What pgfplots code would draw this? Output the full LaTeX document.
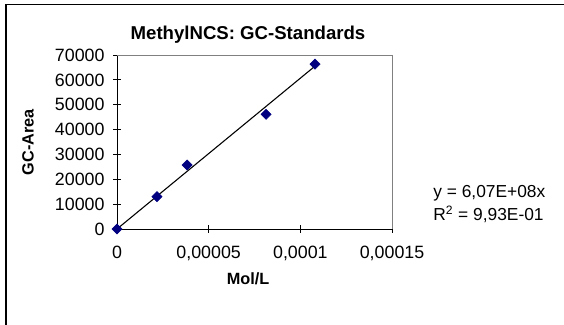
\documentclass[border=0pt]{standalone}
\usepackage{pgfplots}
\pgfplotsset{compat=1.18}
\usepackage{fontspec}
\setmainfont{Liberation Sans}
\definecolor{navyblue}{RGB}{0,0,128}
\begin{document}
% 1 px of the reference = 0.645pt
\begin{tikzpicture}[x=0.645pt,y=0.645pt]
\useasboundingbox (0,0) rectangle (564,325);
\draw[line width=1.2pt] (6,-10) -- (6,320.5) -- (575,320.5);
\begin{axis}[
  at={(75.47pt,61.92pt)}, anchor=south west,
  scale only axis,
  width=177.4pt, height=112.2pt,
  xmin=0, xmax=0.00015,
  ymin=0, ymax=70000,
  axis x line=bottom, axis y line=left,
  axis line style={-, black, line width=0.6pt},
  xtick={0,0.00005,0.0001,0.00015},
  xticklabels={0,{0,00005},{0,0001},{0,00015}},
  scaled x ticks=false,
  scaled y ticks=false,
  ytick={0,10000,...,70000},
  /pgf/number format/1000 sep={},
  /pgf/number format/assume math mode=true,
  tick align=center,
  major tick length=5pt,
  tick style={black, line width=0.6pt},
  ticklabel style={font=\fontsize{11.5}{13}\selectfont},
  xticklabel style={yshift=-5pt},
  yticklabel style={xshift=-2pt},
  clip=false,
]
\draw[gray, line width=0.6pt] (rel axis cs:0,1) -- (rel axis cs:1,1) -- (rel axis cs:1,0);
% linear trend line through origin
\addplot[black, line width=0.7pt] coordinates {(0,0) (0.000108,65556)};
\addplot[only marks, mark=square*, mark size=2.3pt,
  mark options={rotate=45, fill=navyblue, draw=navyblue}]
  coordinates {
  (0,0) (0.0000218,13000) (0.0000382,25750) (0.0000813,46150) (0.000108,66350)
  };
\end{axis}
\node[font=\bfseries\fontsize{12}{14}\selectfont] at (248,290) {MethylNCS: GC-Standards};
\node[font=\bfseries\fontsize{10.5}{12}\selectfont, rotate=90] at (28,183) {GC-Area};
\node[font=\bfseries\fontsize{10.5}{12}\selectfont] at (248,46) {Mol/L};
\node[anchor=west, inner sep=0pt, font=\fontsize{11.2}{13}\selectfont] at (433,132) {y = 6,07E+08x};
\node[anchor=west, inner sep=0pt, font=\fontsize{11.2}{13}\selectfont] at (433,111) {R\textsuperscript{2} = 9,93E-01};
\end{tikzpicture}
\end{document}
